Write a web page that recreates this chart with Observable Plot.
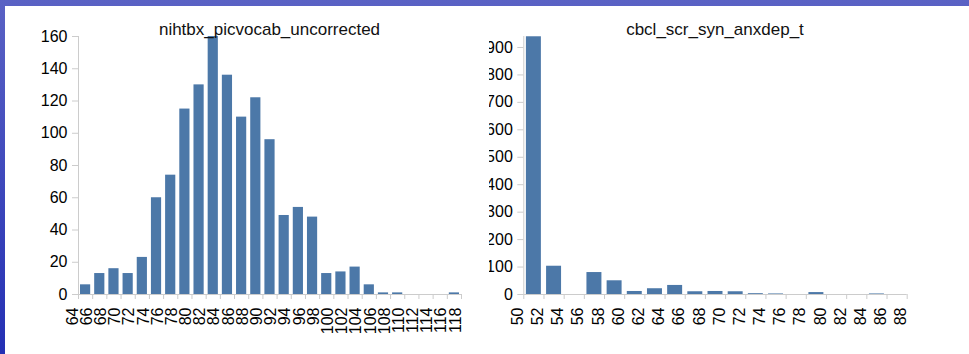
<!DOCTYPE html>
<html>
<head>
<meta charset="utf-8">
<script src="https://cdn.jsdelivr.net/npm/d3@7"></script>
<script src="https://cdn.jsdelivr.net/npm/@observablehq/plot@0.6"></script>
<style>
  html, body { margin: 0; padding: 0; background: #fff; }
  #frame { position: relative; width: 969px; height: 354px; overflow: hidden;
    background: linear-gradient(to bottom, #5a62c4, #2430b4); }
  #panel { position: absolute; left: 5px; top: 6px; right: 0; bottom: 0; background: #fff; }
  .chart { position: absolute; top: 6px; height: 348px; overflow: hidden; }
  .title { position: absolute; top: 21px; width: 400px; text-align: center;
    font-family: "Liberation Sans", Arial, sans-serif; font-size: 17px; line-height: 17px; color: #111; z-index: 2; }
</style>
</head>
<body>
<div id="frame">
  <div id="panel"></div>
  <div id="left" class="chart" style="left:5px;width:475px"></div>
  <div id="right" class="chart" style="left:489px;width:480px"></div>
  <div class="title" style="left:69.5px">nihtbx_picvocab_uncorrected</div>
  <div class="title" style="left:515px">cbcl_scr_syn_anxdep_t</div>
</div>
<script>
// --- data: nihtbx_picvocab_uncorrected (bin start, width 2) ---
const picvocabBins   = [64,66,68,70,72,74,76,78,80,82,84,86,88,90,92,94,96,98,100,102,104,106,108,110,112,114,116];
const picvocabCounts = [6,13,16,13,23,60,74,115,130,160,136,110,122,96,49,54,48,13,14,17,6,1,1,0,0,0,1];
const picvocabXTicks = [64,66,68,70,72,74,76,78,80,82,84,86,88,90,92,94,96,98,100,102,104,106,108,110,112,114,116,118];
const picvocabYTicks = [0,20,40,60,80,100,120,140,160];

// --- data: cbcl_scr_syn_anxdep_t (bin start, width 2) ---
const anxdepBins   = [50,52,54,56,58,60,62,64,66,68,70,72,74,76,78,80,82,84,86];
const anxdepCounts = [939,103,0,80,50,11,21,33,10,11,10,3,2,0,7,0,0,2,0];
const anxdepXTicks = [50,52,54,56,58,60,62,64,66,68,70,72,74,76,78,80,82,84,86,88];
const anxdepYTicks = [0,100,200,300,400,500,600,700,800,900];

const binWidth = 2;
const barColor = "#4c78a8";
const axisGray = "#cccccc";
const font = "'Liberation Sans', Arial, sans-serif";

function hist({bins, counts, xDomain, yDomain, xTicks, yTicks, width, marginLeft, marginRight, inset}) {
  const data = bins.map((b, i) => ({x1: b, x2: b + binWidth, count: counts[i]}));
  return Plot.plot({
    width, height: 348,
    marginLeft, marginRight, marginTop: 30, marginBottom: 60,
    style: {fontFamily: font, fontSize: "16px", background: "transparent", color: "#000"},
    x: {domain: xDomain, label: null},
    y: {domain: yDomain, label: null},
    marks: [
      Plot.ruleY([yDomain[0]], {stroke: axisGray}),
      Plot.ruleX([xDomain[0]], {stroke: axisGray}),
      Plot.rectY(data.filter(d => d.count > 0), {x1: "x1", x2: "x2", y: "count", fill: barColor, insetLeft: inset, insetRight: inset}),
      Plot.axisX({ticks: xTicks, tickSize: 5, tickFormat: () => "", stroke: axisGray, label: null}),
      Plot.axisX({ticks: xTicks, tickSize: 0, tickPadding: 13, tickRotate: -90, dx: -6, fill: "#000", label: null}),
      Plot.axisY({ticks: yTicks, tickSize: 6, tickPadding: 5, stroke: axisGray, fill: "#000", label: null})
    ]
  });
}

document.getElementById("left").append(hist({
  bins: picvocabBins, counts: picvocabCounts, xDomain: [64, 118], yDomain: [0, 160],
  xTicks: picvocabXTicks, yTicks: picvocabYTicks, width: 475, marginLeft: 73, marginRight: 19, inset: 2
}));

document.getElementById("right").append(hist({
  bins: anxdepBins, counts: anxdepCounts, xDomain: [50, 88], yDomain: [0, 940],
  xTicks: anxdepXTicks, yTicks: anxdepYTicks, width: 480, marginLeft: 34.3, marginRight: 62.3, inset: 2.6
}));
</script>
</body>
</html>
